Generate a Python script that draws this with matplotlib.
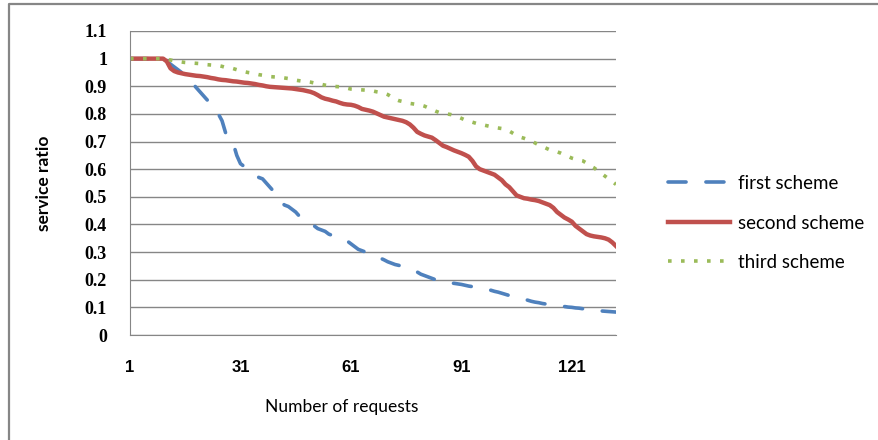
import matplotlib
matplotlib.use("Agg")
import matplotlib.pyplot as plt
from matplotlib.lines import Line2D

# requests 1..133
requests = list(range(1, 134))

first_scheme = [
    1.0, 1.0, 1.0, 1.0, 1.0, 1.0, 1.0, 1.0, 1.0, 1.0,
    0.99, 0.98, 0.97, 0.96, 0.95, 0.94, 0.925, 0.91, 0.895, 0.88,
    0.865, 0.85, 0.835, 0.82, 0.8, 0.775, 0.73, 0.715, 0.695, 0.65,
    0.62, 0.61, 0.6, 0.59, 0.58, 0.57, 0.565, 0.55, 0.535, 0.52,
    0.5, 0.48, 0.47, 0.465, 0.455, 0.445, 0.43, 0.42, 0.41, 0.4,
    0.395, 0.385, 0.38, 0.375, 0.365, 0.36, 0.357, 0.353, 0.348, 0.34,
    0.33, 0.32, 0.31, 0.305, 0.3, 0.295, 0.29, 0.285, 0.278, 0.272,
    0.265, 0.26, 0.255, 0.252, 0.248, 0.245, 0.24, 0.235, 0.228, 0.22,
    0.215, 0.21, 0.205, 0.2, 0.195, 0.19, 0.189, 0.188, 0.187, 0.185,
    0.183, 0.18, 0.177, 0.175, 0.172, 0.17, 0.167, 0.165, 0.162, 0.158,
    0.155, 0.151, 0.147, 0.143, 0.14, 0.137, 0.133, 0.13, 0.126, 0.122,
    0.119, 0.117, 0.114, 0.112, 0.11, 0.108, 0.106, 0.105, 0.103, 0.101,
    0.1, 0.098, 0.097, 0.095, 0.093, 0.092, 0.09, 0.089, 0.087, 0.086,
    0.085, 0.084, 0.083,
]

second_scheme = [
    1.0, 1.0, 1.0, 1.0, 1.0, 1.0, 1.0, 1.0, 1.0, 1.0,
    0.99, 0.965, 0.955, 0.95, 0.947, 0.944, 0.942, 0.94, 0.938, 0.937,
    0.935, 0.933, 0.93, 0.928, 0.925, 0.923, 0.922, 0.92, 0.918, 0.917,
    0.915, 0.913, 0.912, 0.91, 0.908, 0.905, 0.903, 0.9, 0.898, 0.897,
    0.896, 0.895, 0.894, 0.893, 0.892, 0.89, 0.888, 0.886, 0.883, 0.88,
    0.875, 0.868, 0.86, 0.855, 0.852, 0.848, 0.845, 0.84, 0.836, 0.834,
    0.833, 0.83, 0.825, 0.818, 0.815, 0.812, 0.808, 0.802, 0.796, 0.79,
    0.787, 0.784, 0.781, 0.778, 0.775, 0.77, 0.762, 0.75, 0.735, 0.728,
    0.722, 0.718, 0.714, 0.705, 0.695, 0.685, 0.68, 0.674, 0.668, 0.663,
    0.658, 0.652, 0.645, 0.63, 0.61, 0.6, 0.595, 0.59, 0.585, 0.58,
    0.57, 0.56, 0.545, 0.535, 0.52, 0.505, 0.5, 0.495, 0.493, 0.49,
    0.488, 0.485, 0.48, 0.475, 0.47, 0.46, 0.445, 0.435, 0.425, 0.418,
    0.41, 0.395, 0.385, 0.375, 0.365, 0.36, 0.357, 0.355, 0.353, 0.35,
    0.345, 0.335, 0.322,
]

third_scheme = [
    1.0, 1.0, 1.0, 1.0, 1.0, 1.0, 1.0, 1.0, 1.0, 1.0,
    0.998, 0.995, 0.992, 0.99, 0.988, 0.986, 0.985, 0.984, 0.983, 0.982,
    0.98, 0.978, 0.977, 0.976, 0.975, 0.972, 0.968, 0.966, 0.964, 0.96,
    0.956, 0.953, 0.95, 0.948, 0.945, 0.942, 0.94, 0.937, 0.935, 0.934,
    0.933, 0.932, 0.93, 0.928, 0.925, 0.922, 0.92, 0.918, 0.917, 0.915,
    0.912, 0.91, 0.907, 0.904, 0.902, 0.9, 0.899, 0.898, 0.896, 0.893,
    0.89, 0.889, 0.888, 0.887, 0.886, 0.885, 0.883, 0.88, 0.878, 0.875,
    0.87, 0.862, 0.853, 0.848, 0.845, 0.842, 0.838, 0.836, 0.834, 0.832,
    0.828, 0.822, 0.816, 0.81, 0.805, 0.802, 0.8, 0.798, 0.795, 0.79,
    0.784, 0.778, 0.774, 0.77, 0.766, 0.763, 0.76, 0.757, 0.754, 0.751,
    0.749, 0.747, 0.744, 0.738, 0.73, 0.722, 0.716, 0.712, 0.707, 0.702,
    0.695, 0.688, 0.682, 0.676, 0.67, 0.666, 0.663, 0.658, 0.652, 0.646,
    0.64, 0.636, 0.633, 0.63, 0.622, 0.612, 0.605, 0.595, 0.585, 0.575,
    0.565, 0.555, 0.545,
]

x_ticks = [1, 31, 61, 91, 121]
y_ticks = [0, 0.1, 0.2, 0.3, 0.4, 0.5, 0.6, 0.7, 0.8, 0.9, 1, 1.1]
y_labels = ["0", "0.1", "0.2", "0.3", "0.4", "0.5", "0.6", "0.7", "0.8", "0.9", "1", "1.1"]

fig = plt.figure(figsize=(8.79, 4.40), dpi=100)
ax = fig.add_axes([130 / 879, 1 - 335 / 440, 486 / 879, 304 / 440])

ax.plot(requests, first_scheme, color="#4F81BD", lw=2.6, dashes=(5, 5.5),
        dash_capstyle="round", label="first scheme")
ax.plot(requests, second_scheme, color="#C0504D", lw=3.2, label="second scheme")
ax.plot(requests, third_scheme, color="#9BBB59", lw=2.6, dashes=(1, 2.6),
        label="third scheme")

ax.set_xlim(1, 133)
ax.set_ylim(0, 1.1)
ax.set_yticks(y_ticks)
ax.set_yticklabels(y_labels, family="Liberation Serif", fontsize=13, fontweight="bold")
ax.set_xticks(x_ticks)
ax.set_xticklabels([str(t) for t in x_ticks], family="Liberation Sans", fontsize=12,
                   fontweight="bold")
ax.tick_params(axis="y", length=0, pad=16.5)
ax.tick_params(axis="x", length=0, pad=18)
ax.grid(axis="y", color="#868686", lw=1)
ax.set_axisbelow(True)
for s in ["top", "right"]:
    ax.spines[s].set_visible(False)
ax.spines["left"].set_color("#868686")
ax.spines["bottom"].set_color("#868686")

ax.set_ylabel("service ratio", family="Lato", fontsize=12.5, fontweight="bold")
ax.yaxis.set_label_coords(-78 / 486, 0.5)
ax.set_xlabel("Number of requests", family="Lato", fontsize=12.5)
ax.xaxis.set_label_coords(212 / 486, -64 / 304)

ax.legend(loc="center left", bbox_to_anchor=(668 / 879, 1 - 223 / 440),
          bbox_transform=fig.transFigure, frameon=False,
          prop={"family": "Lato", "size": 13.5}, handlelength=3.3,
          labelspacing=1.2, handletextpad=0.43, borderpad=0, borderaxespad=0)

# chart area border (left and top only visible)
fig.add_artist(Line2D([8.5 / 879, 8.5 / 879, 1], [0, 1 - 4.5 / 440, 1 - 4.5 / 440],
                      transform=fig.transFigure, color="#868686", lw=1.6))

plt.savefig("out.png", dpi=100)
plt.close()
